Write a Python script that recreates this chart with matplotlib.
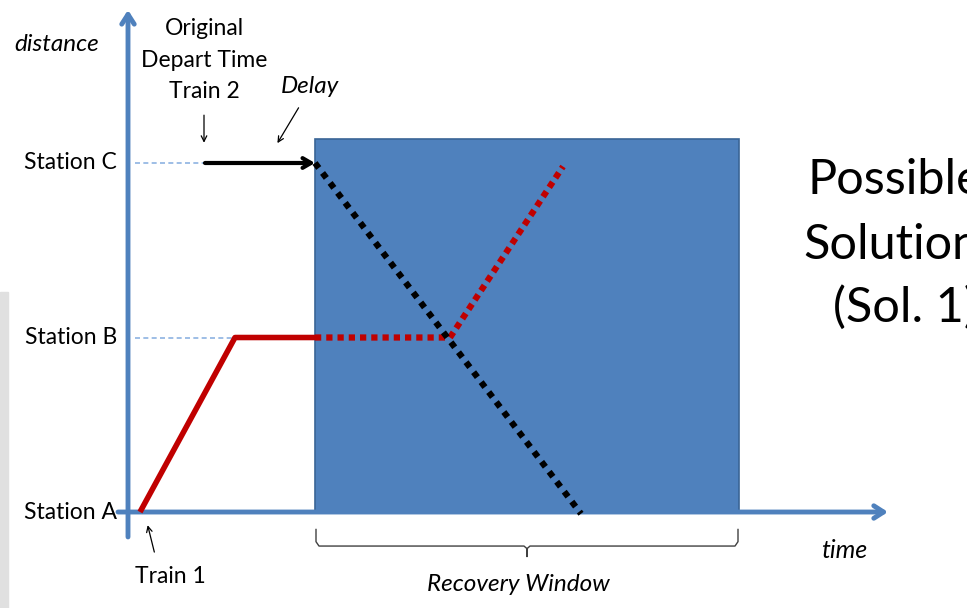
import matplotlib.pyplot as plt
from matplotlib.patches import Rectangle

# time in minutes, distance in station index
stations = ['Station A', 'Station B', 'Station C']
station_d = [0, 1, 2]

train1_t = [1.2, 10.7, 18.7]
train1_d = [0, 1, 1]
train1_new_t = [18.7, 32.2, 43.5]
train1_new_d = [1, 1, 1.98]

train2_orig_t = 7.7
train2_delay_t = [7.7, 18.7]
train2_new_t = [18.7, 45.3]
train2_new_d = [2, -0.01]

window = [18.7, 61.1]
window_top = 2.14

blue = '#4F81BD'
red = '#C00000'
font = ['Lato', 'DejaVu Sans']

fig = plt.figure(figsize=(9.67, 6.08), dpi=100)
ax = fig.add_axes([0, 0, 1, 1])
ax.set_xlim(-12.8, 83.9)
ax.set_ylim(-0.55, 2.934)
ax.axis('off')

# grey strip at the left edge of the slide
fig.patches.append(Rectangle((0, 0), 8 / 967, 316 / 608, transform=fig.transFigure,
                             color='#E0E0E0', zorder=0))

# recovery window
ax.add_patch(Rectangle((window[0], 0), window[1] - window[0], window_top,
                       facecolor=blue, edgecolor='#3A6596', lw=1.2, zorder=1))

# axes arrows
ax.annotate('', xy=(76, 0), xytext=(-1, 0),
            arrowprops=dict(arrowstyle='->,head_length=0.7,head_width=0.45', color=blue, lw=3.5,
                            shrinkA=0, shrinkB=0), zorder=2)
ax.annotate('', xy=(0, 2.877), xytext=(0, -0.143),
            arrowprops=dict(arrowstyle='->,head_length=0.7,head_width=0.45', color=blue, lw=3.5,
                            shrinkA=0, shrinkB=0), zorder=2)

# dashed guides
ax.plot([0.7, train2_orig_t], [2, 2], color='#8DB3E2', lw=1.2, ls=(0, (3, 2)), zorder=2)
ax.plot([0.7, train1_t[1]], [1, 1], color='#8DB3E2', lw=1.2, ls=(0, (3, 2)), zorder=2)

# train 1
ax.plot(train1_t, train1_d, color=red, lw=4, solid_capstyle='butt', zorder=3)
ax.plot(train1_new_t, train1_new_d, color=red, lw=4.5, ls=(0, (1, 0.8)),
        dash_capstyle='butt', zorder=3)

# train 2
ax.plot(train2_new_t, train2_new_d, color='black', lw=4.5, ls=(0, (1, 1)),
        dash_capstyle='butt', zorder=4)
ax.annotate('', xy=(train2_delay_t[1], 2), xytext=(train2_delay_t[0], 2),
            arrowprops=dict(arrowstyle='->,head_length=0.6,head_width=0.35', color='black', lw=3,
                            shrinkA=0, shrinkB=0), zorder=4)

# station labels
for name, d in zip(stations, station_d):
    ax.text(-1.1, d, name, ha='right', va='center', fontsize=16.5, family=font)

ax.text(-7.1, 2.677, 'distance', ha='center', va='center', fontsize=17.5,
        style='italic', family=font)
ax.text(7.6, 2.59, 'Original\nDepart Time\nTrain 2', ha='center', va='center',
        fontsize=16.5, family=font, linespacing=1.6)
ax.annotate('', xy=(7.6, 2.1), xytext=(7.6, 2.29),
            arrowprops=dict(arrowstyle='->,head_length=0.4,head_width=0.2', color='black', lw=0.9))
ax.text(18.2, 2.44, 'Delay', ha='center', va='center', fontsize=17.5, style='italic', family=font)
ax.annotate('', xy=(14.8, 2.1), xytext=(17.2, 2.33),
            arrowprops=dict(arrowstyle='->,head_length=0.4,head_width=0.2', color='black', lw=0.9))

ax.text(4.2, -0.372, 'Train 1', ha='center', va='center', fontsize=16.5, family=font)
ax.annotate('', xy=(1.9, -0.06), xytext=(2.7, -0.245),
            arrowprops=dict(arrowstyle='->,head_length=0.4,head_width=0.2', color='black', lw=0.9))

ax.text(71.6, -0.218, 'time', ha='center', va='center', fontsize=18, style='italic', family=font)

# brace under recovery window
mid = (window[0] + window[1]) / 2
bx = [window[0] + 0.1, window[0] + 0.1, window[0] + 0.4, mid - 0.3, mid, mid,
      mid, mid + 0.3, window[1] - 0.4, window[1] - 0.1, window[1] - 0.1]
by = [-0.1, -0.17, -0.195, -0.195, -0.21, -0.255,
      -0.21, -0.195, -0.195, -0.17, -0.1]
ax.plot(bx, by, color='#404040', lw=1, zorder=2)
ax.text(mid - 0.9, -0.413, 'Recovery Window', ha='center', va='center', fontsize=17.5,
        style='italic', family=font)

# slide title, clipped at the right edge as in the original slide
ax.text(68.0, 1.90, 'Possible', ha='left', va='center', fontsize=35, family=font)
ax.text(67.5, 1.53, 'Solution', ha='left', va='center', fontsize=35, family=font)
ax.text(70.5, 1.17, '(Sol. 1)', ha='left', va='center', fontsize=35, family=font)

fig.savefig('out.png', dpi=100)
